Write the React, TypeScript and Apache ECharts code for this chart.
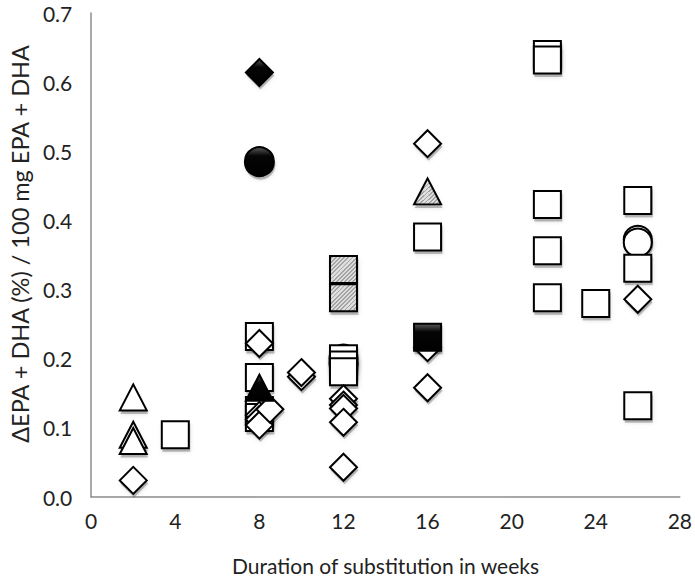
import React, { useEffect, useRef } from "react";
import * as echarts from "echarts";

// [weeks, ΔEPA+DHA per 100 mg]
const openDiamonds: number[][] = [
  [2, 0.024], [8, 0.222], [8, 0.118], [8, 0.112], [8, 0.104], [8.5, 0.127],
  [10, 0.174], [10, 0.18], [12, 0.142], [12, 0.133], [12, 0.128], [12, 0.108],
  [12, 0.043], [16, 0.511], [16, 0.216], [16, 0.158], [26, 0.286],
];
const openCircles: number[][] = [
  [12, 0.2], [12, 0.193], [26, 0.372], [26, 0.368],
];
const openSquares: number[][] = [
  [4, 0.09], [8, 0.232], [8, 0.173], [8, 0.125], [8, 0.115],
  [12, 0.2], [12, 0.191], [12, 0.181], [16, 0.376],
  [21.7, 0.64], [21.7, 0.632], [21.7, 0.423], [21.7, 0.356], [21.7, 0.288],
  [24, 0.28], [26, 0.429], [26, 0.331], [26, 0.132],
];
const openTriangles: number[][] = [
  [2, 0.144], [2, 0.09], [2, 0.081],
];
const hatchedSquares: number[][] = [[12, 0.329], [12, 0.288]];
const hatchedTriangles: number[][] = [[16, 0.442]];
const filledSquares: number[][] = [[16, 0.231]];
const filledTriangles: number[][] = [[8, 0.158]];
const filledDiamonds: number[][] = [[8, 0.614]];
const filledCircles: number[][] = [[8, 0.485]];

const xTicks = { min: 0, max: 28, interval: 4 };
const yTicks = { min: 0, max: 0.7, interval: 0.1 };

const FONT = "Lato";

function hatchGradient() {
  const N = 13;
  const light = "#dedede";
  const dark = "#a4a4a4";
  const stops: { offset: number; color: string }[] = [];
  for (let i = 0; i < N; i++) {
    stops.push({ offset: i / N, color: light });
    stops.push({ offset: (i + 0.55) / N, color: light });
    stops.push({ offset: (i + 0.55) / N, color: dark });
    stops.push({ offset: (i + 1) / N, color: dark });
  }
  return new echarts.graphic.LinearGradient(0, 0, 1, 1, stops);
}

export default function App() {
  const ref = useRef<HTMLDivElement>(null);
  useEffect(() => {
    if (!ref.current) return;
    const chart = echarts.init(ref.current, undefined, { renderer: "svg" });
    const hatch = hatchGradient();
    const black = new echarts.graphic.LinearGradient(0, 0, 0, 1, [
      { offset: 0, color: "#5a5a5a" },
      { offset: 0.3, color: "#050505" },
      { offset: 1, color: "#000000" },
    ]);
    const groups: [number[][], string, number | number[], any][] = [
      [openCircles, "circle", 28, "#fff"],
      [openSquares, "rect", 27, "#fff"],
      [openDiamonds, "diamond", 27, "#fff"],
      [openTriangles, "triangle", [27, 26], "#fff"],
      [hatchedSquares, "rect", 27, hatch],
      [hatchedTriangles, "triangle", [27, 26], hatch],
      [filledSquares, "rect", 27, black],
      [filledTriangles, "triangle", [27, 26], black],
      [filledDiamonds, "diamond", 27, black],
      [filledCircles, "circle", 29, black],
    ];
    const shadows = groups.map(([data, symbol, size]) => ({
      type: "scatter",
      data,
      symbol,
      symbolSize: Array.isArray(size) ? [size[0] + 1, size[1] + 1] : size + 1,
      symbolOffset: [1, 3],
      silent: true,
      itemStyle: {
        color: "rgba(0,0,0,0.3)",
        borderWidth: 0,
        shadowColor: "rgba(0,0,0,0.5)",
        shadowBlur: 4,
      },
      emphasis: { disabled: true },
    }));
    const marks = groups.map(([data, symbol, size, color]) => ({
      type: "scatter",
      data,
      symbol,
      symbolSize: size,
      itemStyle: { color, borderColor: "#000", borderWidth: 2, opacity: 1 },
      emphasis: { disabled: true },
    }));
    chart.setOption({
      animation: false,
      grid: { left: 90, right: 15, top: 13, bottom: 82, containLabel: false },
      xAxis: {
        type: "value",
        ...xTicks,
        name: "Duration of substitution in weeks",
        nameLocation: "middle",
        nameGap: 58,
        nameTextStyle: { fontFamily: FONT, fontSize: 21, color: "#222" },
        axisLine: { show: true, lineStyle: { color: "#8c8c8c", width: 1.5 } },
        axisTick: { show: false },
        splitLine: { show: false },
        axisLabel: { fontFamily: FONT, fontSize: 21, color: "#222", margin: 13 },
      },
      yAxis: {
        type: "value",
        ...yTicks,
        name: "ΔEPA + DHA (%) / 100 mg EPA + DHA",
        nameLocation: "middle",
        nameGap: 49,
        nameTextStyle: {
          fontFamily: FONT,
          fontSize: 23.5,
          color: "#222",
          padding: [0, 0, 0, 22],
        },
        axisLine: { show: true, lineStyle: { color: "#8c8c8c", width: 1.5 } },
        axisTick: { show: false },
        splitLine: { show: false },
        axisLabel: {
          fontFamily: FONT,
          fontSize: 21,
          color: "#222",
          margin: 19,
          formatter: (v: number) => v.toFixed(1),
        },
      },
      series: [...shadows, ...marks],
    });
    return () => chart.dispose();
  }, []);
  return (
    <div
      ref={ref}
      style={{ position: "fixed", left: 0, top: 0, width: 695, height: 581, background: "#fff" }}
    />
  );
}
